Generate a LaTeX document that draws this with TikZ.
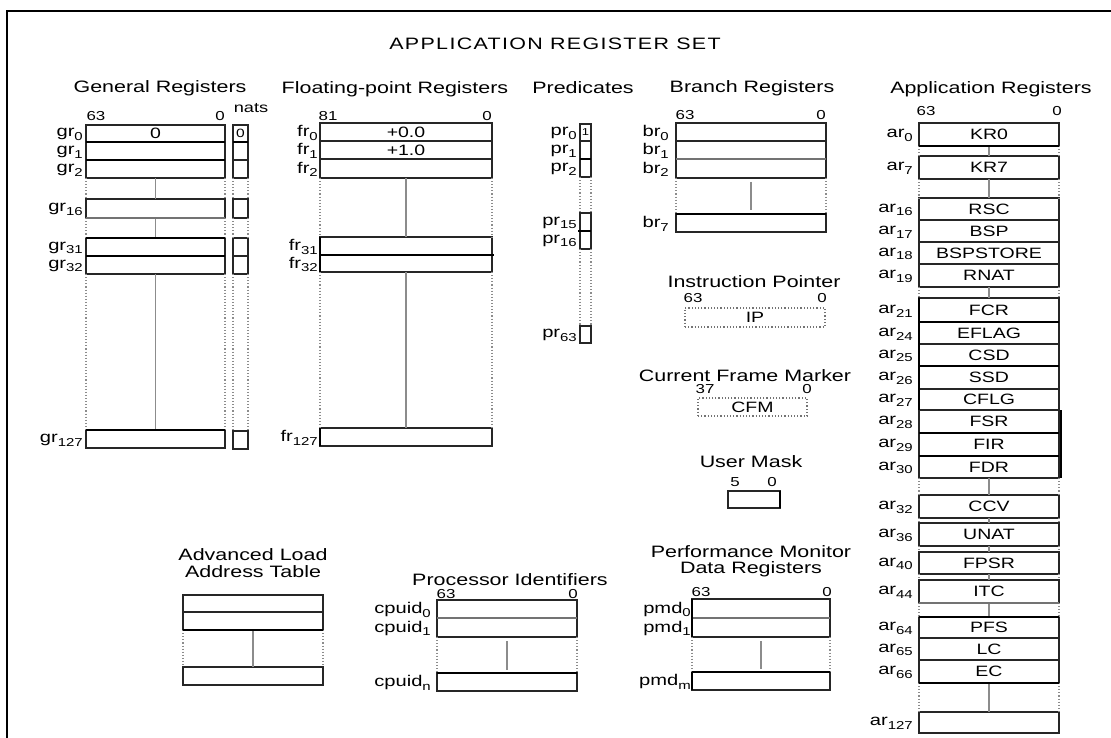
\documentclass[tikz,border=0pt]{standalone}
\usepackage{fontspec}
\setmainfont[FakeStretch=1.3]{Liberation Sans}
\newfontfamily\ttlfont[FakeStretch=1.3,LetterSpace=8]{Liberation Sans}
\newcommand\rsub[1]{\raisebox{-0.45ex}{\fontsize{11.5}{12}\selectfont #1}}
\newcommand\fs[1]{\fontsize{#1}{#1}\selectfont}
\tikzset{
  reg/.style={draw=black!85, line width=1.2pt, inner sep=0pt, outer sep=0pt, anchor=north west, font=\fs{15}},
  lab/.style={anchor=east, inner sep=0pt, font=\fs{15.5}},
  bit/.style={inner sep=0pt, font=\fs{13}},
  ttl/.style={inner sep=0pt, font=\fs{16.5}, align=center},
  gapedge/.style={draw=black!45, line width=1.1pt, dotted},
  midline/.style={draw=black!45, line width=1.3pt},
  thk/.style={line width=2.8pt, draw=black},
  thkg/.style={line width=2.8pt, draw=black!55},
  dbox/.style={reg, draw=black!55, dotted, line width=1.3pt},
  frame/.style={line width=2.5pt, draw=black}
}
\newcommand\rg[8]{\node[reg,minimum width=#4pt,minimum height=#5pt] (#1) at (#2,#3) {#6};
  \node[lab] (#1l) at ([xshift=-#8pt,yshift=-1pt]#1.west) {#7};}
\newcommand\rb[6]{\node[reg,minimum width=#4pt,minimum height=#5pt] (#1) at (#2,#3) {#6};}
\newcommand\gap[2]{\draw[gapedge] (#1.south west) -- (#2.north west);
  \draw[gapedge] (#1.south east) -- (#2.north east);
  \draw[midline] (#1.south) -- (#2.north);}
\newcommand\gapn[2]{\draw[gapedge] (#1.south west) -- (#2.north west);
  \draw[gapedge] (#1.south east) -- (#2.north east);}
\begin{document}
\begin{tikzpicture}[x=1pt,y=-1pt]
\useasboundingbox (0,0) rectangle (1111,738);
% frame
\coordinate (fbl) at (7,760);
\coordinate (ftl) at (7,11);
\coordinate (ftr) at (1130,11);
\draw[frame] (fbl) -- (ftl) -- (ftr);
\node[inner sep=0pt, font=\ttlfont\fs{16.5}] (main) at (555,44) {APPLICATION REGISTER SET};

% ---------------- General registers
\node[ttl] (grt) at (160,88) {General Registers};
\node[bit] (gr63) at (96,116) {63};
\node[bit] (gr00) at (220,116) {0};
\node[bit, font=\fs{14}] (nats) at (251,108) {nats};
\rg{gr0}{86}{125}{139}{17}{0}{gr\rsub{0}}{3}
\rg{gr1}{86}{142}{139}{18}{}{gr\rsub{1}}{3}
\rg{gr2}{86}{160}{139}{18}{}{gr\rsub{2}}{3}
\rg{gr16}{86}{199}{139}{19}{}{gr\rsub{16}}{3}
\rg{gr31}{86}{238}{139}{18}{}{gr\rsub{31}}{3}
\rg{gr32}{86}{256}{139}{18}{}{gr\rsub{32}}{3}
\rg{gr127}{86}{430}{139}{18}{}{gr\rsub{127}}{3}
\gap{gr2}{gr16}\gap{gr16}{gr31}\gap{gr32}{gr127}
\draw[thk] (gr1.south west) -- (gr1.south east);
\draw[thkg] (gr16.south west) -- (gr16.south east);
\draw[thk] (gr31.north west) -- (gr31.north east);
\draw[thk] (gr31.south west) -- (gr31.south east);
\draw[thk] (gr127.north west) -- (gr127.north east);
\draw[line width=1.8pt] (gr0.south west) -- (gr0.south east);
% nats
\rb{n0}{233}{125}{15}{17}{\fs{12}0}
\rb{n1}{233}{142}{15}{18}{}
\rb{n2}{233}{160}{15}{18}{}
\rb{n16}{233}{199}{15}{19}{}
\rb{n31}{233}{238}{15}{18}{}
\rb{n32}{233}{256}{15}{18}{}
\rb{n127}{233}{431}{15}{18}{}
\gapn{n2}{n16}\gapn{n16}{n31}\gapn{n32}{n127}
\draw[thk] (n0.south west) -- (n0.south east);

% ---------------- Floating-point registers
\node[ttl] (frt) at (395,89) {Floating-point Registers};
\node[bit] (fr81) at (328,116) {81};
\node[bit] (fr00) at (487,116) {0};
\rg{fr0}{320}{123}{172}{18}{+0.0}{fr\rsub{0}}{2}
\rg{fr1}{320}{141}{172}{18}{+1.0}{fr\rsub{1}}{2}
\rg{fr2}{320}{159}{172}{19}{}{fr\rsub{2}}{2}
\rg{fr31}{320}{237}{172}{18}{}{fr\rsub{31}}{2}
\rg{fr32}{320}{255}{172}{17}{}{fr\rsub{32}}{2}
\rg{fr127}{320}{428}{172}{18}{}{fr\rsub{127}}{2}
\gap{fr2}{fr31}\gap{fr32}{fr127}
\draw[thk] (fr31.south west) -- ([xshift=2pt]fr31.south east);
\draw[thk] (fr31.north west) -- (fr32.south west);
\draw[thk] (fr127.north west) -- (fr127.south west);

% ---------------- Predicates
\node[ttl] (prt) at (583,88) {Predicates};
\rg{pr0}{580}{124}{11}{17}{\fs{10}1}{pr\rsub{0}}{3}
\rg{pr1}{580}{141}{11}{18}{}{pr\rsub{1}}{3}
\rg{pr2}{580}{159}{11}{18}{}{pr\rsub{2}}{3}
\rg{pr15}{580}{213}{11}{18}{}{pr\rsub{15}}{3}
\rg{pr16}{580}{231}{11}{18}{}{pr\rsub{16}}{3}
\rg{pr63}{580}{326}{11}{17}{}{pr\rsub{63}}{3}
\gapn{pr2}{pr15}\gapn{pr16}{pr63}
\draw[thk] (pr1.south west) -- (pr1.south east);
\draw[thk] ([xshift=-2pt]pr15.south west) -- (pr15.south east);

% ---------------- Branch registers
\node[ttl] (brt) at (752,88) {Branch Registers};
\node[bit] (br63) at (685,115) {63};
\node[bit] (br00) at (821,115) {0};
\rg{br0}{676}{123}{150}{18}{}{br\rsub{0}}{7}
\rg{br1}{676}{141}{150}{18}{}{br\rsub{1}}{7}
\rg{br2}{676}{159}{150}{19}{}{br\rsub{2}}{7}
\rg{br7}{676}{214}{150}{18}{}{br\rsub{7}}{7}
\draw[gapedge] (br2.south west) -- (br7.north west);
\draw[gapedge] (br2.south east) -- (br7.north east);
\draw[midline, shorten <=4pt, shorten >=4pt] (br2.south) -- (br7.north);
\draw[thkg] (br1.south west) -- (br1.south east);
\draw[thk] (br7.north west) -- (br7.north east);

% ---------------- Instruction pointer
\node[ttl] (ipt) at (754,282) {Instruction Pointer};
\node[bit] (ip63) at (693,298) {63};
\node[bit] (ip00) at (822,298) {0};
\node[dbox, minimum width=140pt, minimum height=19pt] (ip) at (685,308) {IP};

% ---------------- Current frame marker
\node[ttl] (cfmt) at (745,376) {Current Frame Marker};
\node[bit] (cfm37) at (705,389) {37};
\node[bit] (cfm00) at (807,389) {0};
\node[dbox, minimum width=109pt, minimum height=18pt] (cfm) at (698,398) {CFM};

% ---------------- User mask
\node[ttl] (umt) at (751,462) {User Mask};
\node[bit] (um5) at (735,482) {5};
\node[bit] (um00) at (772,482) {0};
\node[reg, minimum width=52pt, minimum height=17pt] (um) at (728,491) {};
\draw[thk] (um.north east) -- (um.south east);

% ---------------- Application registers
\node[ttl] (art) at (991,89) {Application Registers};
\node[bit] (ar63) at (926,111) {63};
\node[bit] (ar00) at (1057,111) {0};
\rg{ar0}{919}{123}{140}{23}{KR0}{ar\rsub{0}}{6}
\rg{ar7}{919}{156}{140}{23}{KR7}{ar\rsub{7}}{6}
\rg{ar16}{919}{198}{140}{22}{RSC}{ar\rsub{16}}{6}
\rg{ar17}{919}{220}{140}{22}{BSP}{ar\rsub{17}}{6}
\rg{ar18}{919}{242}{140}{22}{BSPSTORE}{ar\rsub{18}}{6}
\rg{ar19}{919}{264}{140}{23}{RNAT}{ar\rsub{19}}{6}
\rg{ar21}{919}{298}{140}{24}{FCR}{ar\rsub{21}}{6}
\rg{ar24}{919}{322}{140}{22}{EFLAG}{ar\rsub{24}}{6}
\rg{ar25}{919}{344}{140}{22}{CSD}{ar\rsub{25}}{6}
\rg{ar26}{919}{366}{140}{23}{SSD}{ar\rsub{26}}{6}
\rg{ar27}{919}{389}{140}{21}{CFLG}{ar\rsub{27}}{6}
\rg{ar28}{919}{410}{140}{23}{FSR}{ar\rsub{28}}{6}
\rg{ar29}{919}{433}{140}{23}{FIR}{ar\rsub{29}}{6}
\rg{ar30}{919}{456}{140}{22}{FDR}{ar\rsub{30}}{6}
\rg{ar32}{919}{495}{140}{23}{CCV}{ar\rsub{32}}{6}
\rg{ar36}{919}{523}{140}{23}{UNAT}{ar\rsub{36}}{6}
\rg{ar40}{919}{552}{140}{22}{FPSR}{ar\rsub{40}}{6}
\rg{ar44}{919}{580}{140}{23}{ITC}{ar\rsub{44}}{6}
\rg{ar64}{919}{617}{140}{21}{PFS}{ar\rsub{64}}{6}
\rg{ar65}{919}{638}{140}{22}{LC}{ar\rsub{65}}{6}
\rg{ar66}{919}{660}{140}{23}{EC}{ar\rsub{66}}{6}
\rg{ar127}{919}{712}{140}{21}{}{ar\rsub{127}}{6}
\gap{ar0}{ar7}\gap{ar7}{ar16}\gap{ar19}{ar21}\gap{ar30}{ar32}
\gap{ar32}{ar36}\gap{ar36}{ar40}\gap{ar40}{ar44}\gap{ar44}{ar64}\gap{ar66}{ar127}
\draw[thk] (ar0.south west) -- (ar0.south east);
\draw[thk] (ar21.north west) -- (ar27.south west);
\draw[thk] (ar21.south west) -- (ar21.south east);
\draw[thk] (ar25.south west) -- (ar25.south east);
\draw[thk] (ar28.south west) -- (ar28.south east);
\draw[thk] (ar29.south west) -- (ar29.south east);
\draw[thk] ([xshift=2pt]ar28.north east) -- ([xshift=2pt]ar30.south east);
\draw[thkg] (ar44.south west) -- (ar44.south east);
\draw[thk] (ar64.north west) -- (ar64.north east);
\draw[line width=1.8pt] (ar66.south west) -- (ar66.south east);

% ---------------- Advanced load address table
\node[ttl] (alt) at (253,563) {Advanced Load\\Address Table};
\rb{al0}{183}{595}{140}{17}{}
\rb{al1}{183}{612}{140}{18}{}
\rb{aln}{183}{667}{140}{18}{}
\gap{al1}{aln}
\draw[thk] (al1.south west) -- (al1.south east);

% ---------------- Processor identifiers
\node[ttl] (cpt) at (510,580) {Processor Identifiers};
\node[bit] (cp63) at (446,594) {63};
\node[bit] (cp00) at (573,594) {0};
\rg{cp0}{437}{600}{140}{18}{}{cpuid\rsub{0}}{6}
\rg{cp1}{437}{618}{140}{19}{}{cpuid\rsub{1}}{6}
\rg{cpn}{437}{673}{140}{18}{}{cpuid\rsub{n}}{6}
\draw[gapedge] (cp1.south west) -- (cpn.north west);
\draw[gapedge] (cp1.south east) -- (cpn.north east);
\draw[midline, shorten <=4pt, shorten >=3pt] (cp1.south) -- (cpn.north);
\draw[thkg] (cp0.south west) -- (cp0.south east);
\draw[thk] (cpn.north west) -- (cpn.north east);

% ---------------- Performance monitor data registers
\node[ttl] (pmt) at (751,561) {Performance Monitor\\Data Registers};
\node[bit] (pm63) at (701,592) {63};
\node[bit] (pm00) at (827,592) {0};
\rg{pm0}{692}{599}{138}{19}{}{pmd\rsub{0}}{1}
\rg{pm1}{692}{618}{138}{19}{}{pmd\rsub{1}}{1}
\rg{pmm}{692}{672}{138}{18}{}{pmd\rsub{m}}{1}
\draw[gapedge] (pm1.south west) -- (pmm.north west);
\draw[gapedge] (pm1.south east) -- (pmm.north east);
\draw[midline, shorten <=4pt, shorten >=3pt] (pm1.south) -- (pmm.north);
\draw[thkg] (pm0.south west) -- (pm0.south east);
\draw[thk] (pmm.north west) -- (pmm.north east);
\draw[thk] (pm0.north west) -- (pm1.south west);
\draw[thk] (pmm.north west) -- (pmm.south west);
\end{tikzpicture}
\end{document}
